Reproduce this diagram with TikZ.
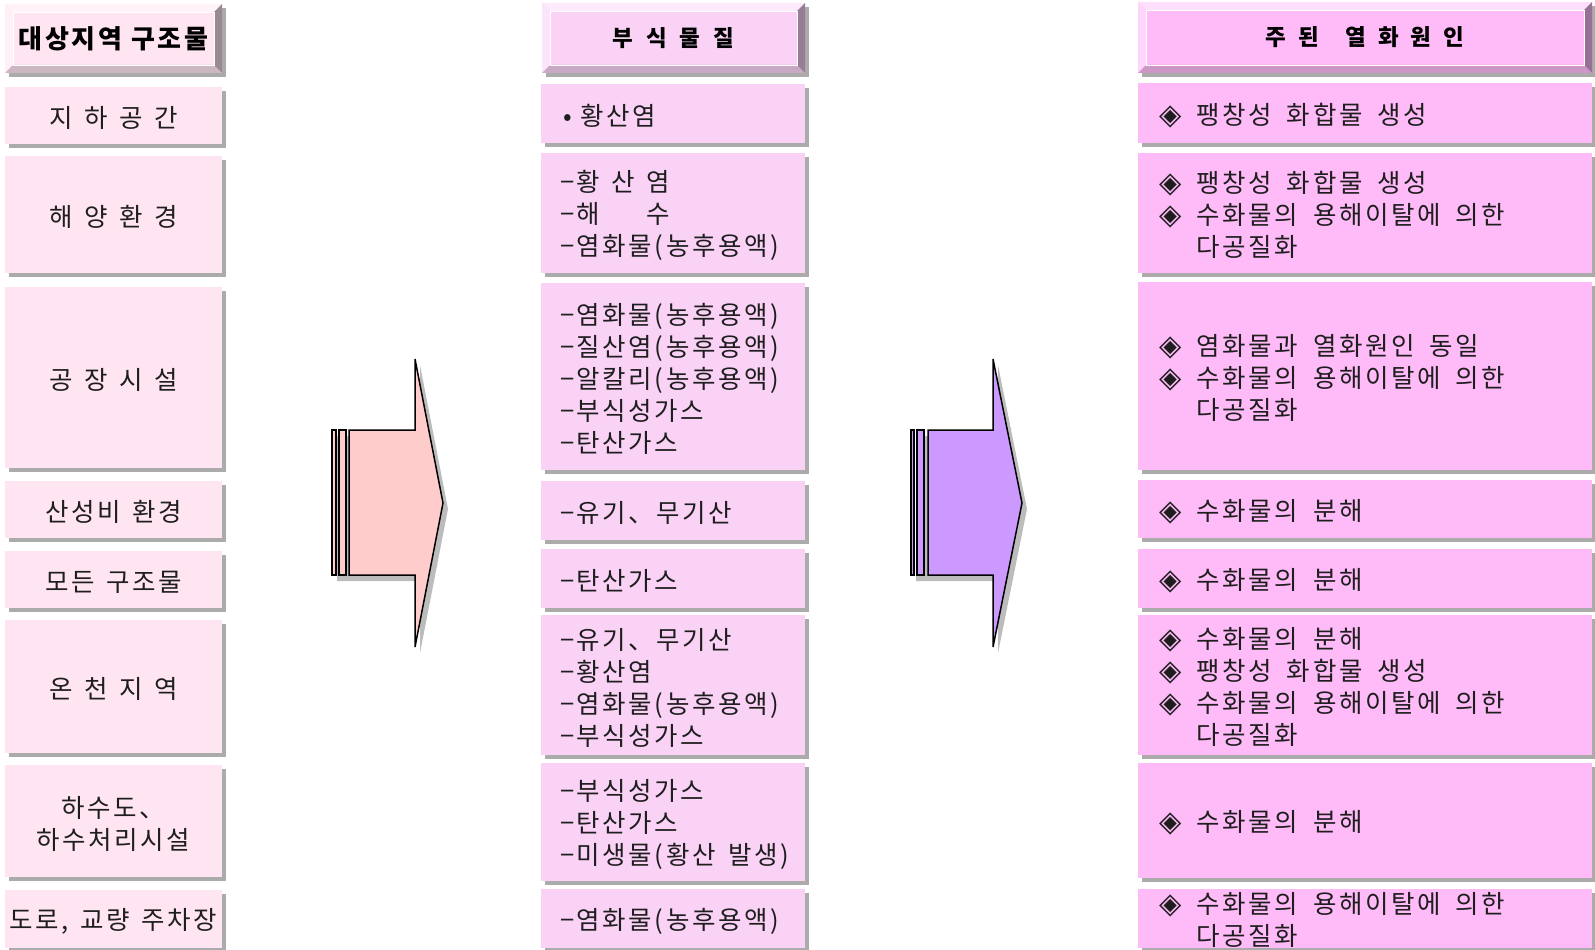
\documentclass[tikz,border=0pt]{standalone}
\usepackage{fontspec}
\setmainfont{Noto Sans CJK KR}[LetterSpace=10, WordSpace={1.1,0,0}]
\newfontfamily\bodyfam{Noto Sans CJK KR}[LetterSpace=10]
\newfontfamily\leftfont{Noto Sans CJK KR}[LetterSpace=10, WordSpace={1.4,0,0}]
\newfontfamily\symfont{DejaVu Sans}
\usetikzlibrary{shadows}
\definecolor{lcol}{HTML}{FFE4F1}
\definecolor{mcol}{HTML}{FAD2F6}
\definecolor{rcol}{HTML}{FFBBF8}
\definecolor{shad}{HTML}{ABABAB}
\definecolor{apink}{HTML}{FFCCCC}
\definecolor{aviolet}{HTML}{CC99FF}
\definecolor{txt}{HTML}{1E1E1E}
\newcommand\bodyfont{\fontsize{25.5}{32}\selectfont\color{txt}}
\newcommand\gap[1]{\hspace*{#1pt}}
\newcommand\dia{{\symfont\fontsize{29}{32}\selectfont ◈}\hspace*{15pt}}
% bevelled header: #1 name, #2 x1, #3 y1, #4 x2, #5 y2, #6 colour, #7 font, #8 text
\newcommand\bevelhdr[8]{%
  \fill[shad] (#2+4,#3+4) rectangle (#4+4,#5+4);
  \fill[#6] (#2,#3) rectangle (#4,#5);
  \fill[#6!45!white] (#2,#3) -- (#4,#3) -- (#4-8,#3+8) -- (#2+8,#3+8) -- cycle;
  \fill[#6!60!white] (#2,#3) -- (#2+8,#3+8) -- (#2+8,#5-8) -- (#2,#5) -- cycle;
  \fill[#6!80!black] (#2,#5) -- (#2+8,#5-8) -- (#4-8,#5-8) -- (#4,#5) -- cycle;
  \fill[#6!60!black] (#4,#3) -- (#4,#5) -- (#4-8,#5-8) -- (#4-8,#3+8) -- cycle;
  \draw[white, line width=0.8pt] (#2+8,#3+8) rectangle (#4-8,#5-8);
  \node[font=#7, text=black, inner sep=0pt] (#1) at ({(#2+#4)/2},{(#3+#5)/2}) {#8};
}
% left cell: #1 name, #2 cx, #3 cy, #4 height, #5 text
\newcommand\lcell[5]{%
  \node[lbox, minimum height=#4pt] (#1) at (#2,#3) {};
  \node[ltext] (#1t) at ([yshift=-2.5pt]#1.center) {#5};
}
% left-aligned cell: #1 column (m/r), #2 name, #3 cx, #4 cy, #5 height, #6 text
\newcommand\cell[6]{%
  \node[#1box, minimum height=#5pt] (#2) at (#3,#4) {};
  \node[#1text] (#2t) at ([xshift=\csname #1indent\endcsname pt, yshift=-2.5pt]#2.west) {#6};
}
\def\mindent{19}
\def\rindent{21}
\tikzset{
  box/.style={inner sep=0pt, outer sep=0pt,
    drop shadow={shadow xshift=4pt, shadow yshift=-4pt, fill=shad, opacity=1}},
  lbox/.style={box, fill=lcol, minimum width=217pt},
  mbox/.style={box, fill=mcol, minimum width=264pt},
  rbox/.style={box, fill=rcol, minimum width=454pt},
  ltext/.style={inner sep=0pt, font=\bodyfont\leftfont, align=center},
  mtext/.style={inner sep=0pt, anchor=west, font=\bodyfont\bodyfam, align=left, text width=260pt,
    execute at begin node={\spaceskip=13pt\relax}},
  rtext/.style={inner sep=0pt, anchor=west, font=\bodyfont\bodyfam, align=left, text width=420pt,
    execute at begin node={\spaceskip=15pt\relax}},
  arrowline/.style={draw=black, line width=1.5pt, line join=miter},
}
\begin{document}
\begin{tikzpicture}[x=1pt, y=-1pt]
\useasboundingbox (0,0) rectangle (1595,950);

% headers
\bevelhdr{h1}{5}{4}{222}{73}{lcol}{\fontsize{26}{30}\selectfont\bfseries}{대상지역 구조물}
\bevelhdr{h2}{542}{3}{805}{73}{mcol}{\fontsize{22.5}{28}\selectfont\bfseries}{부\gap{13}식\gap{13}물\gap{13}질}
\bevelhdr{h3}{1138}{2}{1592}{73}{rcol}{\fontsize{22.5}{28}\selectfont\bfseries}{주\gap{12}된\gap{26}열\gap{12}화\gap{12}원\gap{12}인}

% left column
\lcell{l1}{113.5}{115.5}{57}{지 하 공 간}
\lcell{l2}{113.5}{214.5}{117}{해 양 환 경}
\lcell{l3}{113.5}{377.5}{181}{공 장 시 설}
\lcell{l4}{113.5}{509.5}{57}{산성비 환경}
\lcell{l5}{113.5}{579.5}{57}{모든 구조물}
\lcell{l6}{113.5}{686.5}{133}{온 천 지 역}
\lcell{l7}{113.5}{821}{112}{하수도、\\하수처리시설}
\lcell{l8}{113.5}{919}{58}{도로, 교량 주차장}

% middle column
\cell{m}{m1}{673}{113.5}{59}{\gap{3}•\gap{9}황산염}
\cell{m}{m2}{673}{213}{120}{−황\gap{11.5}산\gap{11.5}염\\−해\phantom{\gap{11.5}산\gap{11.5}}수\\−염화물(농후용액)}
\cell{m}{m3}{673}{376.5}{187}{−염화물(농후용액)\\−질산염(농후용액)\\−알칼리(농후용액)\\−부식성가스\\−탄산가스}
\cell{m}{m4}{673}{510.5}{59}{−유기、무기산}
\cell{m}{m5}{673}{578.5}{59}{−탄산가스}
\cell{m}{m6}{673}{685}{140}{−유기、무기산\\−황산염\\−염화물(농후용액)\\−부식성가스}
\cell{m}{m7}{673}{822}{118}{−부식성가스\\−탄산가스\\−미생물(황산 발생)}
\cell{m}{m8}{673}{918.5}{59}{−염화물(농후용액)}

% right column
\cell{r}{r1}{1365}{113}{60}{\dia 팽창성 화합물 생성}
\cell{r}{r2}{1365}{213}{120}{\dia 팽창성 화합물 생성\\\dia 수화물의 용해이탈에 의한\\\phantom{\dia}다공질화}
\cell{r}{r3}{1365}{376}{188}{\dia 염화물과 열화원인 동일\\\dia 수화물의 용해이탈에 의한\\\phantom{\dia}다공질화}
\cell{r}{r4}{1365}{509}{58}{\dia 수화물의 분해}
\cell{r}{r5}{1365}{578.5}{59}{\dia 수화물의 분해}
\cell{r}{r6}{1365}{685}{140}{\dia 수화물의 분해\\\dia 팽창성 화합물 생성\\\dia 수화물의 용해이탈에 의한\\\phantom{\dia}다공질화}
\cell{r}{r7}{1365}{820.5}{115}{\dia 수화물의 분해}
\cell{r}{r8}{1365}{918.5}{59}{\dia 수화물의 용해이탈에 의한\\\phantom{\dia}다공질화}

% arrow 1
\fill[shad!80!white] (354,436) -- (420,436) -- (420,365) -- (448,509) -- (420,653) -- (420,581) -- (337,581) -- (337,436) -- cycle;
\filldraw[arrowline, fill=apink] (332,430) rectangle (336,575);
\filldraw[arrowline, fill=apink] (339,430) rectangle (346,575);
\filldraw[arrowline, fill=apink] (349,430) -- (415,430) -- (415,359) -- (443,503) -- (415,647) -- (415,575) -- (349,575) -- cycle;

% arrow 2
\fill[shad!80!white] (933,436) -- (998,436) -- (998,365) -- (1027,509) -- (998,653) -- (998,581) -- (916,581) -- (916,436) -- cycle;
\filldraw[arrowline, fill=aviolet] (911,430) rectangle (914,575);
\filldraw[arrowline, fill=aviolet] (917,430) rectangle (924,575);
\filldraw[arrowline, fill=aviolet] (928,430) -- (993,430) -- (993,359) -- (1022,503) -- (993,647) -- (993,575) -- (928,575) -- cycle;
\end{tikzpicture}
\end{document}
